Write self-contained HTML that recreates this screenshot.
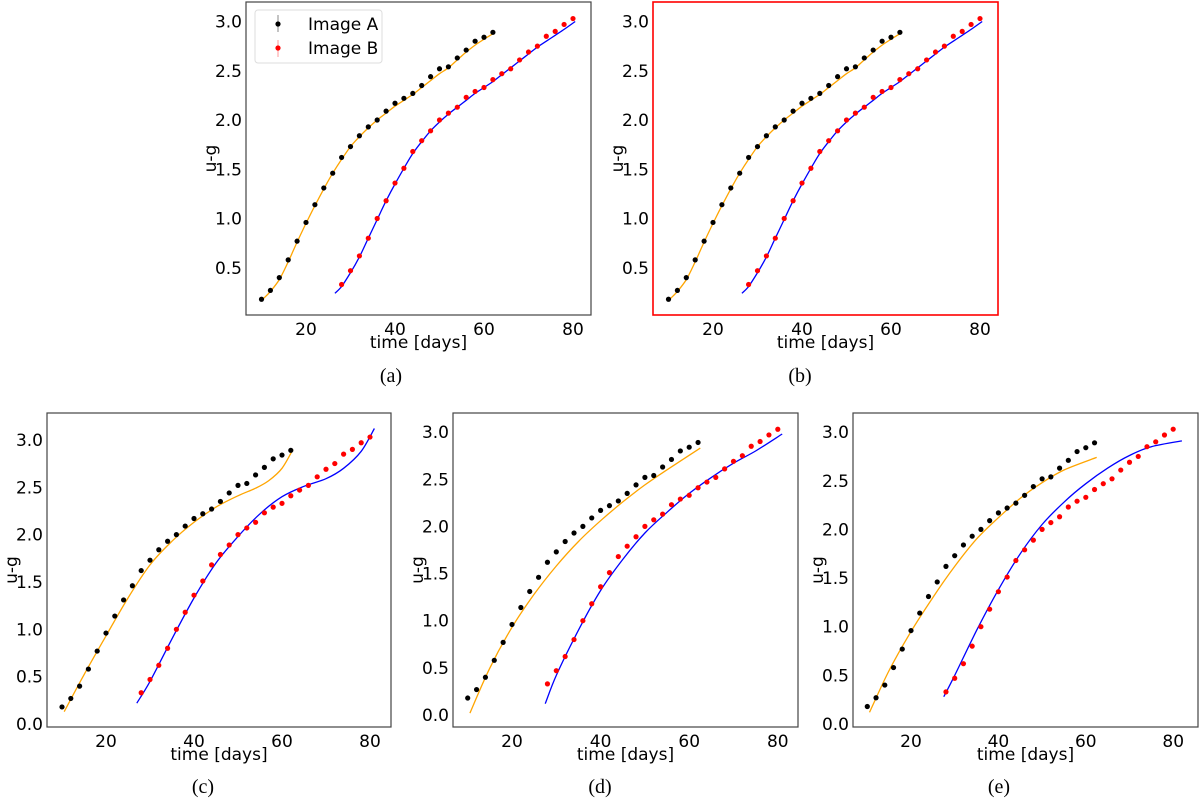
<!DOCTYPE html>
<html><head><meta charset="utf-8"><style>
body{margin:0;background:#fff;width:1200px;height:802px;overflow:hidden}
svg{display:block}
.sans{font-family:"DejaVu Sans","Liberation Sans",sans-serif}
.serif{font-family:"Liberation Serif","DejaVu Serif",serif}
</style></head><body>
<svg id="fig" width="1200" height="802" viewBox="0 0 1200 802" xmlns="http://www.w3.org/2000/svg"></svg>
<script>
const timesA=[10,12,14,16,18,20,22,24,26,28,30,32,34,36,38,40,42,44,46,48,50,52,54,56,58,60,62];
const valuesA=[0.18,0.27,0.40,0.58,0.77,0.96,1.14,1.31,1.46,1.62,1.73,1.84,1.93,2.00,2.09,2.17,2.22,2.27,2.35,2.44,2.52,2.54,2.63,2.71,2.80,2.84,2.89];
const timesB=[28,30,32,34,36,38,40,42,44,46,48,50,52,54,56,58,60,62,64,66,68,70,72,74,76,78,80];
const valuesB=[0.33,0.47,0.62,0.80,1.00,1.18,1.36,1.51,1.68,1.79,1.89,2.00,2.07,2.13,2.23,2.29,2.33,2.41,2.47,2.52,2.61,2.69,2.75,2.85,2.90,2.97,3.03];
const fitABtA=[10.5,12,14,16,18,20,22,24,26,28,30,32,34,36,38,40,42,44,46,48,50,52,54,56,58,60,62.5];
const fitABvA=[0.19,0.26,0.38,0.56,0.76,0.95,1.13,1.30,1.46,1.60,1.73,1.83,1.92,2.00,2.07,2.14,2.20,2.26,2.33,2.40,2.47,2.53,2.61,2.69,2.76,2.82,2.89];
const fitABtB=[26.5,28,30,32,34,36,38,40,42,44,46,48,50,52,54,56,58,60,62,64,66,68,70,72,74,76,78,80.5];
const fitABvB=[0.24,0.31,0.45,0.61,0.80,0.99,1.18,1.35,1.51,1.66,1.78,1.89,1.98,2.06,2.13,2.20,2.27,2.33,2.39,2.46,2.53,2.60,2.67,2.74,2.80,2.86,2.92,3.00];
const fitCtA=[10.5,15,20,25,30,35,40,45,50,54,57,60,62.5];
const fitCvA=[0.13,0.52,0.93,1.33,1.68,1.93,2.13,2.29,2.41,2.49,2.57,2.70,2.90];
const fitCtB=[27,30,35,40,45,50,55,60,65,70,74,78,81];
const fitCvB=[0.22,0.45,0.90,1.33,1.70,1.98,2.22,2.40,2.51,2.59,2.70,2.88,3.12];
const fitDtA=[10.5,15,20,25,30,35,40,45,50,55,62.5];
const fitDvA=[0.02,0.50,0.93,1.28,1.58,1.84,2.06,2.26,2.44,2.60,2.83];
const fitDtB=[27.5,30,35,40,45,50,55,60,65,70,75,81];
const fitDvB=[0.12,0.42,0.90,1.32,1.65,1.93,2.15,2.35,2.52,2.67,2.80,2.98];
const fitEtA=[10.5,15,20,25,30,35,40,45,50,55,62.5];
const fitEvA=[0.12,0.55,0.95,1.30,1.62,1.90,2.12,2.32,2.48,2.61,2.74];
const fitEtB=[27.5,30,35,40,45,50,55,60,65,70,75,82];
const fitEvB=[0.28,0.50,0.96,1.38,1.75,2.05,2.28,2.47,2.63,2.76,2.85,2.91];
const yTicksAB=[0.5,1.0,1.5,2.0,2.5,3.0];
const yTicksCDE=[0.0,0.5,1.0,1.5,2.0,2.5,3.0];
const xTicks=[20,40,60,80];

const NS="http://www.w3.org/2000/svg";
const svg=document.getElementById('fig');
function mk(tag,attrs,parent){const e=document.createElementNS(NS,tag);for(const k in attrs)e.setAttribute(k,attrs[k]);(parent||svg).appendChild(e);return e;}
function smooth(pts){let d=`M${pts[0][0]},${pts[0][1]}`;for(let i=0;i<pts.length-1;i++){const p0=pts[Math.max(i-1,0)],p1=pts[i],p2=pts[i+1],p3=pts[Math.min(i+2,pts.length-1)];const c1=[p1[0]+(p2[0]-p0[0])/6,p1[1]+(p2[1]-p0[1])/6],c2=[p2[0]-(p3[0]-p1[0])/6,p2[1]-(p3[1]-p1[1])/6];d+=`C${c1[0].toFixed(1)},${c1[1].toFixed(1)} ${c2[0].toFixed(1)},${c2[1].toFixed(1)} ${p2[0].toFixed(1)},${p2[1].toFixed(1)}`;}return d;}

const panels=[
 {id:'a',box:[246,2,591,315],x20:306,pxd:4.45,y0:317,pyu:98.5,yt:yTicksAB,fits:[fitABtA,fitABvA,fitABtB,fitABvB],cap:[391,376],legend:true},
 {id:'b',box:[653,2,998,315],x20:713,pxd:4.45,y0:317,pyu:98.5,yt:yTicksAB,fits:[fitABtA,fitABvA,fitABtB,fitABvB],cap:[800,376],red:true},
 {id:'c',box:[47,413,391,727],x20:106,pxd:4.4,y0:724,pyu:94.7,yt:yTicksCDE,fits:[fitCtA,fitCvA,fitCtB,fitCvB],cap:[203,787]},
 {id:'d',box:[453,413,798,727],x20:512,pxd:4.43,y0:715,pyu:94.3,yt:yTicksCDE,fits:[fitDtA,fitDvA,fitDtB,fitDvB],cap:[600,787]},
 {id:'e',box:[853,413,1198,727],x20:911,pxd:4.37,y0:724,pyu:97.3,yt:yTicksCDE,fits:[fitEtA,fitEvA,fitEtB,fitEvB],cap:[999,787]}
];
panels.forEach(p=>{
 const g=mk('g',{});
 
 
 const X=t=>p.x20+(t-20)*p.pxd, Y=v=>p.y0-v*p.pyu;
 const [x1,y1,x2,y2]=p.box;
 const fr=mk('rect',{x:x1,y:y1,width:x2-x1,height:y2-y1,fill:'#fff',stroke:p.red?'#ff0000':'#444','stroke-width':p.red?1.6:1.2},g);
 
 
 p.yt.forEach(v=>{const t=mk('text',{class:'sans',x:x1-4,y:Y(v)+6,'text-anchor':'end','font-size':17,fill:'#000'},g);t.textContent=v.toFixed(1);
  
  });
 xTicks.forEach(v=>{const t=mk('text',{class:'sans',x:X(v),y:y2+20,'text-anchor':'middle','font-size':17,fill:'#000'},g);t.textContent=v;
  
  });
 const xt=mk('text',{class:'sans',x:(x1+x2)/2,y:y2+33,'text-anchor':'middle','font-size':17,fill:'#000'},g);xt.textContent='time [days]';
 
 
 const ycx=x1-30, ycy=(y1+y2)/2;
 const yt=mk('text',{class:'sans',x:ycx,y:ycy,'text-anchor':'middle','font-size':17,fill:'#000',transform:`rotate(-90 ${ycx} ${ycy})`},g);yt.textContent='u-g';
 
 
 const [tA,vA,tB,vB]=p.fits;
 const fa=mk('path',{d:smooth(tA.map((t,i)=>[X(t),Y(vA[i])])),fill:'none',stroke:'#ffa500','stroke-width':1.3},g);
 
 
 const fb=mk('path',{d:smooth(tB.map((t,i)=>[X(t),Y(vB[i])])),fill:'none',stroke:'#0000ff','stroke-width':1.3},g);
 
 
 timesA.forEach((t,i)=>{const c=mk('circle',{cx:X(t),cy:Y(valuesA[i]),r:2.6,fill:'#000'},g);
  
  });
 timesB.forEach((t,i)=>{const c=mk('circle',{cx:X(t),cy:Y(valuesB[i]),r:2.6,fill:'#ff0000'},g);
  
  });
 if(p.legend){
  const lg=mk('g',{},g);
  
  
  mk('rect',{x:255,y:10,width:127,height:53,rx:3,fill:'#fff',stroke:'#ddd','stroke-width':1},lg);
  mk('line',{x1:278,y1:15,x2:278,y2:32,stroke:'#888','stroke-width':1},lg);
  mk('circle',{cx:278,cy:24,r:2.6,fill:'#000'},lg);
  mk('line',{x1:278,y1:40,x2:278,y2:57,stroke:'#f99','stroke-width':1},lg);
  mk('circle',{cx:278,cy:48,r:2.6,fill:'#ff0000'},lg);
  const l1=mk('text',{class:'sans',x:308,y:30,'font-size':17,fill:'#000'},lg);l1.textContent='Image A';
  
  
  const l2=mk('text',{class:'sans',x:308,y:54,'font-size':17,fill:'#000'},lg);l2.textContent='Image B';
  
  
 }
 const cp=mk('text',{class:'serif',x:p.cap[0],y:p.cap[1]+6,'text-anchor':'middle','font-size':20,fill:'#000'},g);cp.textContent='('+p.id+')';
 
 
});
</script>
</body></html>
